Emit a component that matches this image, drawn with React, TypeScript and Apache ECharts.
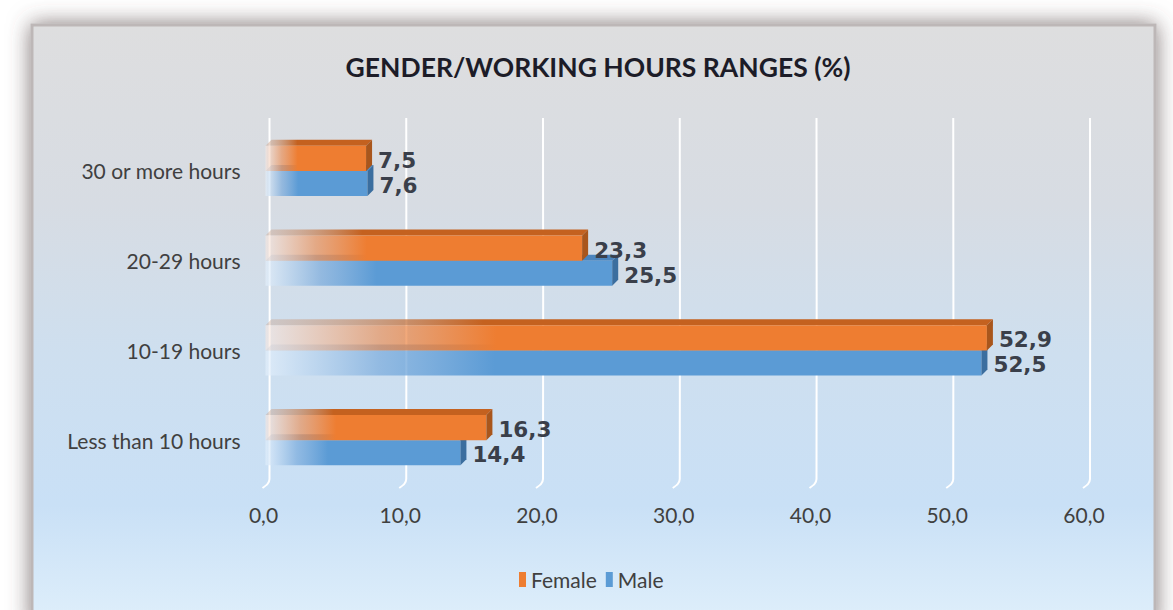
import React, { useEffect, useRef } from "react";
import * as echarts from "echarts";

const categories = ["Less than 10 hours", "10-19 hours", "20-29 hours", "30 or more hours"];
const femaleValues = [16.3, 52.9, 23.3, 7.5];
const maleValues = [14.4, 52.5, 25.5, 7.6];
const xTicks = [0, 10, 20, 30, 40, 50, 60];
const titleText = "GENDER/WORKING HOURS RANGES (%)";

const fmt = (v: number) => v.toFixed(1).replace(".", ",");

type Palette = {
  upper: boolean;
  front: string;
  frontPale: string;
  frontMid: string;
  top: string;
  topPale: string;
  side: string;
};

const femalePal: Palette = {
  upper: true,
  front: "#ee7d31",
  frontPale: "rgba(248,232,225,0.6)",
  frontMid: "rgba(236,140,80,0.65)",
  top: "#c4611f",
  topPale: "rgba(200,150,120,0.3)",
  side: "#a9561c",
};
const malePal: Palette = {
  upper: false,
  front: "#5b9bd5",
  frontPale: "rgba(228,240,252,0.65)",
  frontMid: "rgba(120,170,220,0.7)",
  top: "#4a84bd",
  topPale: "rgba(120,160,200,0.3)",
  side: "#3b6e9f",
};

function makeRender(p: Palette) {
  return (params: any, api: any) => {
    const cat = api.value(0);
    const val = api.value(1);
    const end = api.coord([val, cat]);
    const start = api.coord([0, cat]);
    const band = api.size([0, 1])[1];
    const h = band * 0.28;
    const cy = end[1];
    const top = p.upper ? cy - h : cy;
    const bot = top + h;
    const d = 6;
    const x0 = start[0] - d + 2;
    const x1 = end[0] - d;
    const frontGrad = new echarts.graphic.LinearGradient(0, 0, 1, 0, [
      { offset: 0, color: p.frontPale },
      { offset: 0.16, color: p.frontMid },
      { offset: 0.32, color: p.front },
      { offset: 1, color: p.front },
    ]);
    const topGrad = new echarts.graphic.LinearGradient(0, 0, 1, 0, [
      { offset: 0, color: p.topPale },
      { offset: 0.3, color: p.top },
      { offset: 1, color: p.top },
    ]);
    return {
      type: "group",
      children: [
        {
          type: "polygon",
          shape: { points: [[x0, top], [x1, top], [x1 + d, top - d], [x0 + d, top - d]] },
          style: { fill: topGrad },
        },
        {
          type: "rect",
          shape: { x: x0, y: top, width: Math.max(0, x1 - x0), height: h },
          style: { fill: frontGrad },
        },
        {
          type: "polygon",
          shape: { points: [[x1, top], [x1 + d, top - d], [x1 + d, bot - d], [x1, bot]] },
          style: { fill: p.side },
        },
        {
          type: "text",
          style: {
            text: fmt(val),
            x: end[0] + 6,
            y: top + h / 2 + 2,
            fill: "#3a3f4a",
            font: 'bold 21.5px "DejaVu Sans"',
            align: "left",
            verticalAlign: "middle",
          },
        },
      ],
    };
  };
}

function gridLineRender(params: any, api: any) {
  const p = api.coord([api.value(0), 0]);
  const cs = params.coordSys;
  const x = p[0];
  const b = cs.y + cs.height;
  return {
    type: "polyline",
    shape: {
      points: [
        [x, cs.y - 8],
        [x, b - 6],
        [x - 2, b - 1],
        [x - 7, b + 3],
      ],
      smooth: 0.2,
    },
    style: { stroke: "#ffffff", lineWidth: 2, fill: "none" },
  };
}

export default function App() {
  const ref = useRef<HTMLDivElement>(null);
  useEffect(() => {
    if (!ref.current) return;
    const chart = echarts.init(ref.current, undefined, { renderer: "svg" });
    chart.setOption({
      animation: false,
      backgroundColor: "#ffffff",
      textStyle: { fontFamily: "Lato" },
      graphic: [
        {
          type: "rect",
          z: -10,
          shape: { x: 32, y: 25, width: 1123, height: 600 },
          style: {
            fill: new echarts.graphic.LinearGradient(0, 0, 0, 1, [
              { offset: 0, color: "#dededf" },
              { offset: 0.3, color: "#d7dce3" },
              { offset: 0.55, color: "#cedfef" },
              { offset: 0.8, color: "#c9e0f6" },
              { offset: 1, color: "#dfeffb" },
            ]),
            stroke: "#bdb7b7",
            lineWidth: 3,
            shadowBlur: 22,
            shadowColor: "rgba(90,75,75,0.75)",
          },
        },
      ],
      title: {
        text: titleText,
        left: 593,
        textAlign: "center",
        top: 48,
        textStyle: {
          fontFamily: "Lato",
          fontWeight: "bold",
          fontSize: 26.5,
          color: "#1c1c28",
        },
      },
      legend: {
        data: ["Female", "Male"],
        left: 514,
        top: 564,
        icon: "rect",
        itemWidth: 7,
        itemHeight: 15,
        itemGap: 9,
        textStyle: { fontFamily: "Lato", fontSize: 21, color: "#404040" },
      },
      grid: { left: 269.5, right: 83, top: 126, bottom: 125, containLabel: false },
      xAxis: {
        type: "value",
        min: 0,
        max: 60,
        interval: 10,
        axisLine: { show: false },
        axisTick: { show: false },
        splitLine: { show: false },
        axisLabel: {
          formatter: (v: number) => fmt(v),
          fontFamily: "Lato",
          fontSize: 21,
          color: "#404040",
          margin: 19,
          padding: [0, 12, 0, 0],
        },
      },
      yAxis: {
        type: "category",
        data: categories,
        axisLine: { show: false },
        axisTick: { show: false },
        splitLine: { show: false },
        axisLabel: { fontFamily: "Lato", fontSize: 21, color: "#404040", margin: 29 },
      },
      series: [
        {
          type: "custom",
          name: "gridlines",
          z: 1,
          silent: true,
          data: xTicks.map((v) => [v, 0]),
          encode: { x: 0, y: 1 },
          renderItem: gridLineRender,
        },
        {
          type: "custom",
          name: "Male",
          z: 3,
          itemStyle: { color: "#5b9bd5" },
          data: categories.map((_, i) => [i, maleValues[i]]),
          encode: { x: 1, y: 0 },
          renderItem: makeRender(malePal),
        },
        {
          type: "custom",
          name: "Female",
          z: 4,
          itemStyle: { color: "#ee7d31" },
          data: categories.map((_, i) => [i, femaleValues[i]]),
          encode: { x: 1, y: 0 },
          renderItem: makeRender(femalePal),
        },
      ],
    });
    return () => chart.dispose();
  }, []);
  return (
    <div
      ref={ref}
      style={{ position: "absolute", left: 0, top: 0, width: 1173, height: 610 }}
    />
  );
}
